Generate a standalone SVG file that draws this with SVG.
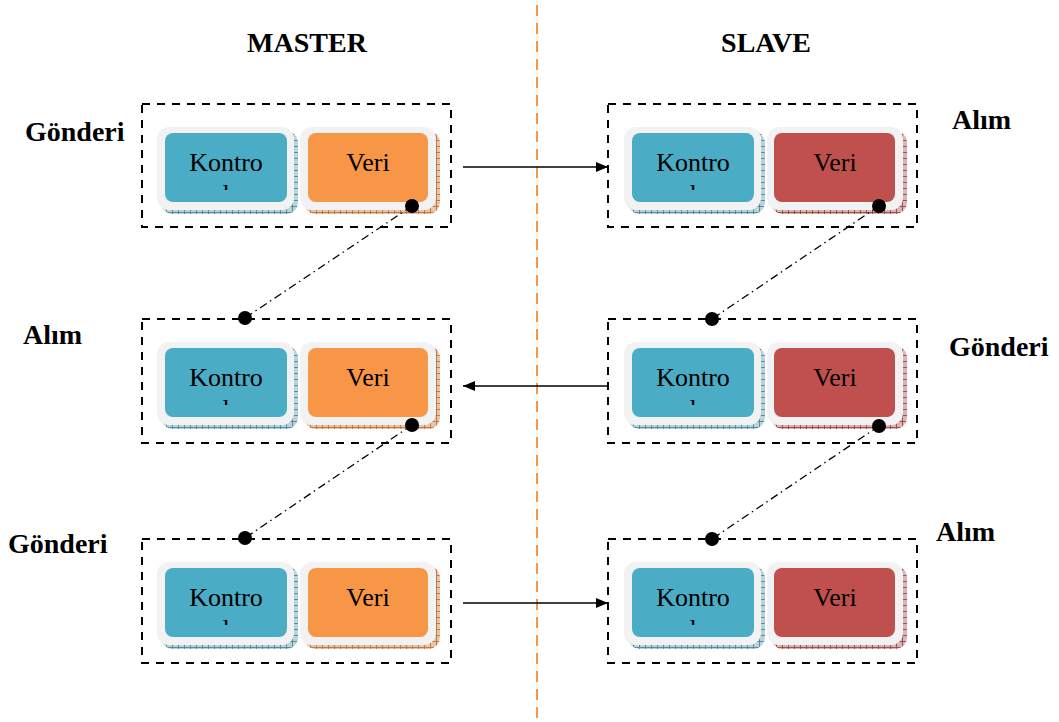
<svg xmlns="http://www.w3.org/2000/svg" width="1059" height="722" viewBox="0 0 1059 722">
  <style>
    .title { font-family: "Liberation Serif", "Times New Roman", serif; font-weight: bold; font-size: 28px; fill: #000; }
    .lbl { font-family: "Liberation Serif", "Times New Roman", serif; font-size: 26px; fill: #000; text-anchor: middle; }
    .frame { fill: #f2f2f2; }
    .group-box { fill: none; stroke: #000; stroke-width: 2; stroke-dasharray: 8 7; }
    .link { fill: none; stroke: #000; stroke-width: 1.3; stroke-dasharray: 8 4 1.5 4; }
    .flow { fill: none; stroke: #000; stroke-width: 1.5; }
    .dot { fill: #000; }
    .blue { fill: #4bacc6; }
    .orange { fill: #f79646; }
    .red { fill: #c0504d; }
  </style>
  <defs>
    <pattern id="hatch-blue" width="6" height="6" patternUnits="userSpaceOnUse">
      <rect width="6" height="6" fill="#b9d3da"/>
      <path d="M0 0.5 H6 M0.5 0 V6" stroke="#3f7f90" stroke-width="0.8"/>
    </pattern>
    <pattern id="hatch-orange" width="6" height="6" patternUnits="userSpaceOnUse">
      <rect width="6" height="6" fill="#e6c6aa"/>
      <path d="M0 0.5 H6 M0.5 0 V6" stroke="#b86a2e" stroke-width="0.8"/>
    </pattern>
    <pattern id="hatch-red" width="6" height="6" patternUnits="userSpaceOnUse">
      <rect width="6" height="6" fill="#dab5b4"/>
      <path d="M0 0.5 H6 M0.5 0 V6" stroke="#8e3a38" stroke-width="0.8"/>
    </pattern>
    <clipPath id="l-cut" clipPathUnits="userSpaceOnUse">
      <rect x="60" y="60" width="50" height="26"/>
    </clipPath>
    <marker id="arrow" viewBox="0 0 12 10" refX="12" refY="5" markerWidth="12" markerHeight="10" markerUnits="userSpaceOnUse" orient="auto">
      <path d="M0 0 L12 5 L0 10 Z" fill="#000"/>
    </marker>

    <!-- Kontrol block; its second text line is cut off by the block -->
    <g id="kontrol-block">
      <rect x="19" y="27" width="137" height="83" rx="12" fill="url(#hatch-blue)"/>
      <rect class="frame" x="15" y="23" width="137" height="83" rx="12"/>
      <rect class="blue" x="23" y="29" width="122" height="69" rx="8"/>
      <text class="lbl" x="84" y="67">Kontro</text>
      <g clip-path="url(#l-cut)">
        <text class="lbl" x="84" y="98">l</text>
      </g>
    </g>
  </defs>

  <!-- divider between the two sides -->
  <line x1="537" y1="5" x2="537" y2="722" stroke="#f79646" stroke-width="2" stroke-dasharray="11 7"/>

  <text class="title" x="307" y="52" text-anchor="middle">MASTER</text>
  <text class="title" x="766" y="52" text-anchor="middle">SLAVE</text>

  <!-- side labels -->
  <text class="title" x="25" y="141">Gönderi</text>
  <text class="title" x="952" y="129">Alım</text>
  <text class="title" x="23" y="344">Alım</text>
  <text class="title" x="949" y="356">Gönderi</text>
  <text class="title" x="8" y="553">Gönderi</text>
  <text class="title" x="936" y="541">Alım</text>

  <!-- master nodes -->
  <g id="master-1" transform="translate(142,104)">
    <rect class="group-box" x="0" y="0" width="309" height="123"/>
    <use href="#kontrol-block"/>
    <rect x="162" y="27" width="136" height="83" rx="12" fill="url(#hatch-orange)"/>
    <rect class="frame" x="158" y="23" width="136" height="83" rx="12"/>
    <rect class="orange" x="166" y="29" width="120" height="69" rx="8"/>
    <text class="lbl" x="226" y="67">Veri</text>
  </g>
  <g id="master-2" transform="translate(142,319)">
    <rect class="group-box" x="0" y="0" width="309" height="124"/>
    <use href="#kontrol-block"/>
    <rect x="162" y="27" width="136" height="83" rx="12" fill="url(#hatch-orange)"/>
    <rect class="frame" x="158" y="23" width="136" height="83" rx="12"/>
    <rect class="orange" x="166" y="29" width="120" height="69" rx="8"/>
    <text class="lbl" x="226" y="67">Veri</text>
  </g>
  <g id="master-3" transform="translate(142,539)">
    <rect class="group-box" x="0" y="0" width="309" height="124"/>
    <use href="#kontrol-block"/>
    <rect x="162" y="27" width="136" height="83" rx="12" fill="url(#hatch-orange)"/>
    <rect class="frame" x="158" y="23" width="136" height="83" rx="12"/>
    <rect class="orange" x="166" y="29" width="120" height="69" rx="8"/>
    <text class="lbl" x="226" y="67">Veri</text>
  </g>

  <!-- slave nodes -->
  <g id="slave-1" transform="translate(608,104)">
    <rect class="group-box" x="0" y="0" width="309" height="123"/>
    <use href="#kontrol-block" x="1"/>
    <rect x="163" y="27" width="136" height="83" rx="12" fill="url(#hatch-red)"/>
    <rect class="frame" x="159" y="23" width="136" height="83" rx="12"/>
    <rect class="red" x="166" y="29" width="121" height="69" rx="8"/>
    <text class="lbl" x="227" y="67">Veri</text>
  </g>
  <g id="slave-2" transform="translate(608,319)">
    <rect class="group-box" x="0" y="0" width="309" height="124"/>
    <use href="#kontrol-block" x="1"/>
    <rect x="163" y="27" width="136" height="83" rx="12" fill="url(#hatch-red)"/>
    <rect class="frame" x="159" y="23" width="136" height="83" rx="12"/>
    <rect class="red" x="166" y="29" width="121" height="69" rx="8"/>
    <text class="lbl" x="227" y="67">Veri</text>
  </g>
  <g id="slave-3" transform="translate(608,539)">
    <rect class="group-box" x="0" y="0" width="309" height="124"/>
    <use href="#kontrol-block" x="1"/>
    <rect x="163" y="27" width="136" height="83" rx="12" fill="url(#hatch-red)"/>
    <rect class="frame" x="159" y="23" width="136" height="83" rx="12"/>
    <rect class="red" x="166" y="29" width="121" height="69" rx="8"/>
    <text class="lbl" x="227" y="67">Veri</text>
  </g>

  <!-- connectors -->
  <g id="connectors">
    <line class="flow" x1="463" y1="167" x2="608" y2="167" marker-end="url(#arrow)"/>
    <line class="flow" x1="608" y1="386" x2="463" y2="386" marker-end="url(#arrow)"/>
    <line class="flow" x1="463" y1="603" x2="608" y2="603" marker-end="url(#arrow)"/>

    <line class="link" x1="412" y1="206" x2="245" y2="318"/>
    <line class="link" x1="879" y1="206" x2="712" y2="319"/>
    <line class="link" x1="412" y1="425" x2="245" y2="538"/>
    <line class="link" x1="879" y1="426" x2="712" y2="539"/>

    <circle class="dot" cx="412" cy="206" r="7"/>
    <circle class="dot" cx="879" cy="206" r="7"/>
    <circle class="dot" cx="412" cy="425" r="7"/>
    <circle class="dot" cx="879" cy="426" r="7"/>
    <circle class="dot" cx="245" cy="318" r="7"/>
    <circle class="dot" cx="712" cy="319" r="7"/>
    <circle class="dot" cx="245" cy="538" r="7"/>
    <circle class="dot" cx="712" cy="539" r="7"/>
  </g>
</svg>
